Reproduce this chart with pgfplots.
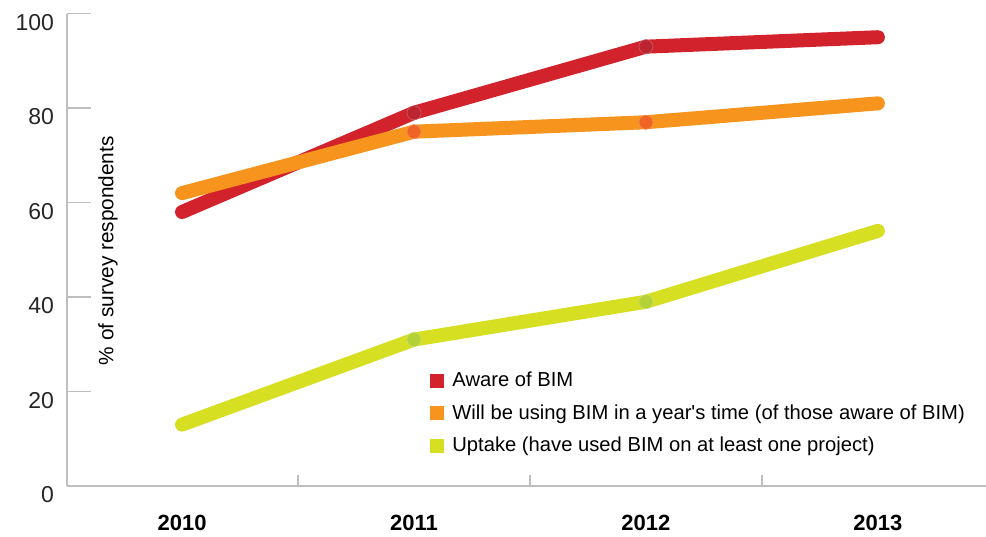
\documentclass[border=0pt]{standalone}
\usepackage{pgfplots}
\pgfplotsset{compat=1.18}
\usepackage{fontspec}
\setmainfont{Liberation Sans}
\newfontfamily\plainfont{Liberation Sans}
\definecolor{cred}{RGB}{210,35,45}
\definecolor{corange}{RGB}{247,148,30}
\definecolor{cyellow}{RGB}{215,223,35}
\definecolor{mred}{RGB}{188,36,48}
\definecolor{morange}{RGB}{240,100,35}
\definecolor{myellow}{RGB}{180,210,55}
\definecolor{axgray}{RGB}{190,190,190}
\begin{document}
\begin{tikzpicture}
\useasboundingbox (0,0) rectangle (493pt,268pt);
\begin{axis}[
  at={(33.5pt,25pt)}, anchor=south west,
  scale only axis, width=459.5pt, height=236.2pt,
  xmin=-0.496, xmax=3.466, ymin=0, ymax=100,
  axis lines=left, axis line style={axgray, line width=0.6pt, -},
  clip=false,
  tick align=inside,
  major tick length=12pt,
  ytick={0,20,40,60,80,100},
  ytick pos=left,
  ytick style={axgray, line width=0.6pt},
  yticklabel style={font=\fontsize{11.5}{13}\selectfont, color=black!85, anchor=east, xshift=-3pt, yshift=-4.5pt},
  xtick={0.5,1.5,2.5},
  xticklabels={},
  xtick pos=bottom,
  xtick style={axgray, line width=0.6pt, /pgfplots/major tick length=5.5pt},
  extra x ticks={0,1,2,3},
  extra x tick labels={2010,2011,2012,2013},
  extra x tick style={major tick length=0pt, tick style={draw=none},
     xticklabel style={font=\bfseries\fontsize{11}{12}\selectfont, yshift=-11pt}},
  /pgf/number format/assume math mode=true,
  ylabel={\% of survey respondents},
  ylabel style={at={(axis description cs:0.0446,0.498)}, anchor=center, font=\fontsize{10.4}{12}\selectfont},
  legend style={at={(rel axis cs:0.395,0.25)}, anchor=north west, draw=none, fill=none,
     font=\fontsize{10.1}{11.5}\selectfont, row sep=3.3pt, column sep=2pt, inner sep=0pt},
  legend cell align=left,
  legend image code/.code={\fill[#1,draw=none] (0pt,-3.5pt) rectangle (7pt,3.5pt);},
  every axis plot/.append style={line width=7pt, line cap=round, line join=round},
]
\addplot[cred, mark=*, mark indices={2,3}, mark size=3.5pt,
  mark options={fill=mred, draw=white!25!mred, line width=0.3pt}]
  coordinates {(0,58) (1,79) (2,93) (3,95)};
\addlegendentry{Aware of BIM}
\addplot[corange, mark=*, mark indices={2,3}, mark size=3.5pt,
  mark options={fill=morange, draw=white!25!morange, line width=0.3pt}]
  coordinates {(0,62) (1,75) (2,77) (3,81)};
\addlegendentry{Will be using BIM in a year{\plainfont'}s time (of those aware of BIM)}
\addplot[cyellow, mark=*, mark indices={2,3}, mark size=3.5pt,
  mark options={fill=myellow, draw=white!25!myellow, line width=0.3pt}]
  coordinates {(0,13) (1,31) (2,39) (3,54)};
\addlegendentry{Uptake (have used BIM on at least one project)}
\end{axis}
\end{tikzpicture}
\end{document}
